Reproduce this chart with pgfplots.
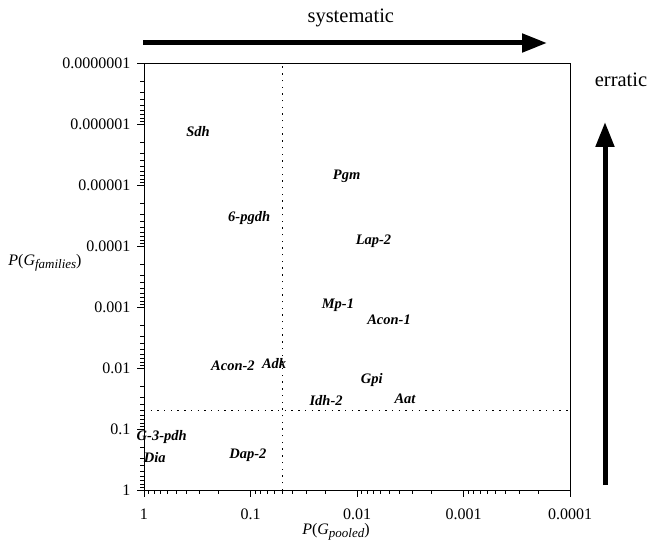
\documentclass[border=0pt]{standalone}
\usepackage{pgfplots}
\pgfplotsset{compat=1.18}
\usepackage{pgfplotstable}
\usepackage{fontspec}
\setmainfont{Liberation Serif}
\usetikzlibrary{arrows.meta}

\pgfplotstableread{
x y label
0.311 1.35e-6 Sdh
0.103 3.48e-5 6-pgdh
0.0125 7.1e-6 Pgm
0.0070 8.5e-5 Lap-2
0.0151 9.5e-4 Mp-1
0.0050 1.63e-3 Acon-1
0.146 9.2e-3 Acon-2
0.060 8.3e-3 Adk
0.00726 0.0157 Gpi
0.0195 0.0348 Idh-2
0.00354 0.0322 Aat
0.682 0.134 G-3-pdh
0.794 0.295 Dia
0.106 0.274 Dap-2
}\genes

\begin{document}
\begin{tikzpicture}[x=1pt,y=1pt]
\path[use as bounding box] (-144,-59) rectangle (506,490);
\begin{axis}[
  at={(0,0)}, anchor=south west,
  scale only axis, width=426pt, height=427pt,
  xmode=log, ymode=log,
  x dir=reverse, y dir=reverse,
  xmin=1e-4, xmax=1, ymin=1e-7, ymax=1,
  xtick={1,0.1,0.01,0.001,0.0001},
  xticklabels={1,0.1,0.01,0.001,0.0001},
  ytick={1,0.1,0.01,0.001,0.0001,0.00001,0.000001,0.0000001},
  yticklabels={1,0.1,0.01,0.001,0.0001,0.00001,0.000001,0.0000001},
  minor xtick={0.0002,0.0003,0.0004,0.0005,0.0006,0.0007,0.0008,0.0009,
    0.002,0.003,0.004,0.005,0.006,0.007,0.008,0.009,
    0.02,0.03,0.04,0.05,0.06,0.07,0.08,0.09,
    0.2,0.3,0.4,0.5,0.6,0.7,0.8,0.9},
  minor ytick={2e-7,3e-7,4e-7,5e-7,6e-7,7e-7,8e-7,9e-7,
    2e-6,3e-6,4e-6,5e-6,6e-6,7e-6,8e-6,9e-6,
    2e-5,3e-5,4e-5,5e-5,6e-5,7e-5,8e-5,9e-5,
    2e-4,3e-4,4e-4,5e-4,6e-4,7e-4,8e-4,9e-4,
    2e-3,3e-3,4e-3,5e-3,6e-3,7e-3,8e-3,9e-3,
    0.02,0.03,0.04,0.05,0.06,0.07,0.08,0.09,
    0.2,0.3,0.4,0.5,0.6,0.7,0.8,0.9},
  tick align=outside,
  major tick length=7pt, minor tick length=4pt,
  xtick pos=bottom, ytick pos=left,
  tick style={black, line width=0.8pt},
  axis line style={line width=0.9pt},
  xticklabel style={font=\fontsize{16}{18}\selectfont, yshift=-8pt},
  yticklabel style={font=\fontsize{16}{18}\selectfont, xshift=-3pt},
  clip=false,
]
\addplot[black, line width=1.4pt, dash pattern=on 1.4pt off 5.3pt] coordinates {(0.05,1) (0.05,1e-7)};
\addplot[black, line width=1.4pt, dash pattern=on 1.4pt off 5.3pt] coordinates {(1,0.05) (1e-4,0.05)};
\addplot[only marks, mark size=0pt, nodes near coords, point meta=explicit symbolic,
  nodes near coords style={anchor=center, inner sep=0pt, font=\fontsize{14.5}{16}\selectfont\bfseries\itshape}]
  table[x=x, y=y, meta=label] {\genes};
\end{axis}
\draw[line width=5pt, -{Triangle[length=25pt, width=18pt]}] (-1,447) -- (403,447);
\draw[line width=5pt, -{Triangle[length=25pt, width=18pt]}] (461,5) -- (461,368);
\node[font=\fontsize{20.5}{22}\selectfont] at (206.8,472) {systematic};
\node[font=\fontsize{20.5}{22}\selectfont] at (477,410) {erratic};
\node[font=\fontsize{16}{18}\selectfont] at (-99,227) {\textit{P}(\textit{G}\raisebox{-3pt}{\fontsize{13}{14}\selectfont\textit{families}})};
\node[font=\fontsize{16}{18}\selectfont] at (192,-42) {\textit{P}(\textit{G}\raisebox{-3pt}{\fontsize{13}{14}\selectfont\textit{pooled}})};
\end{tikzpicture}
\end{document}
